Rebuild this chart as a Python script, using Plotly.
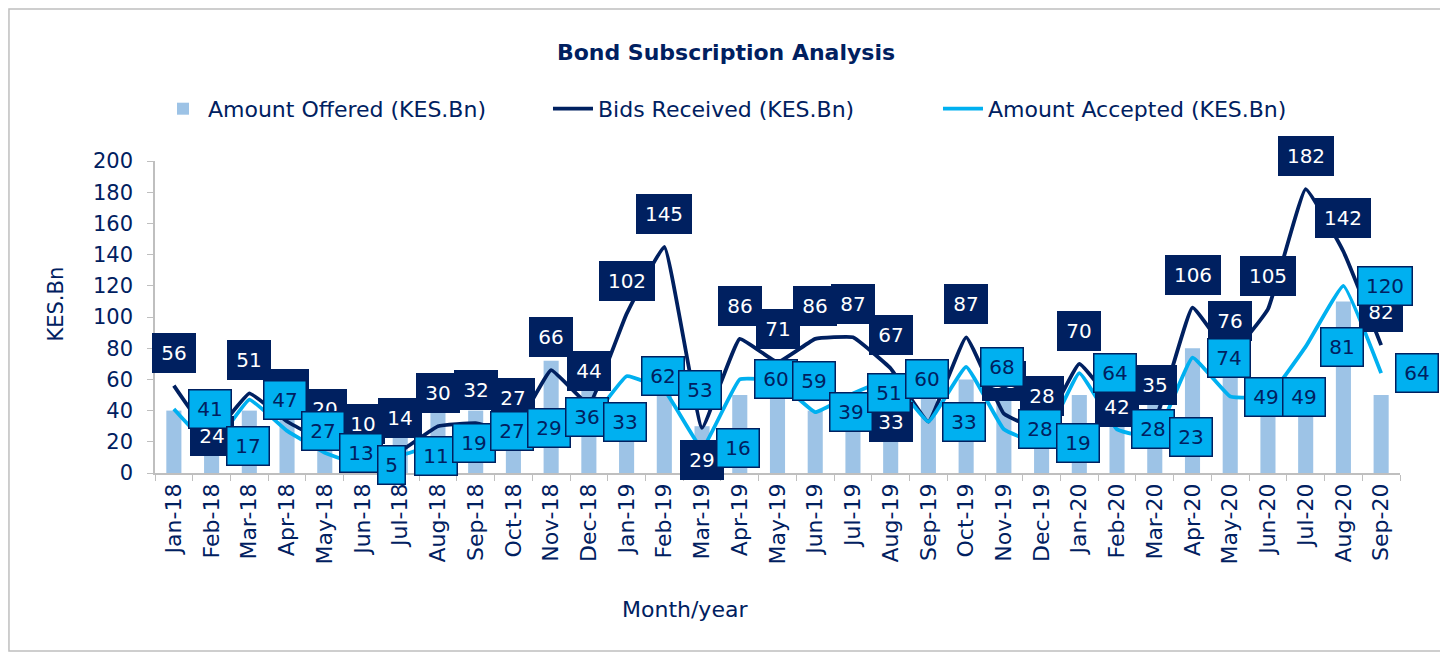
import plotly.graph_objects as go

months = ["Jan-18", "Feb-18", "Mar-18", "Apr-18", "May-18", "Jun-18", "Jul-18", "Aug-18", "Sep-18",
          "Oct-18", "Nov-18", "Dec-18", "Jan-19", "Feb-19", "Mar-19", "Apr-19", "May-19", "Jun-19",
          "Jul-19", "Aug-19", "Sep-19", "Oct-19", "Nov-19", "Dec-19", "Jan-20", "Feb-20", "Mar-20",
          "Apr-20", "May-20", "Jun-20", "Jul-20", "Aug-20", "Sep-20"]
amount_offered = [40, 20, 40, 40, 20, 15, 30, 40, 40, 40, 72, 60, 40, 50, 30, 50, 60, 40, 40, 40,
                  50, 60, 50, 30, 50, 50, 50, 80, 70, 40, 40, 110, 50]
bids_received = [56, 24, 51, 33, 20, 10, 14, 30, 32, 27, 66, 44, 102, 145, 29, 86, 71, 86, 87, 67,
                 33, 87, 38, 28, 70, 42, 35, 106, 76, 105, 182, 142, 82]
amount_accepted = [41, 17, 47, 27, 13, 5, 11, 19, 27, 29, 36, 33, 62, 53, 16, 60, 59, 39, 51, 60,
                   33, 68, 28, 19, 64, 28, 23, 74, 49, 49, 81, 120, 64]
# label placement of bids labels (Excel style): a=above, c=centre, b=below, l=left
bids_label_pos = ["a", "c", "a", "a", "a", "a", "a", "a", "a", "a", "a", "a", "a", "a", "b", "a",
                  "a", "a", "a", "a", "l", "a", "a", "a", "a", "c", "a", "a", "a", "a", "a", "a", "a"]

NAVY = "#002060"
CYAN = "#00B0F0"
BAR = "#9DC3E6"
FONT = "DejaVu Sans"

fig = go.Figure()
fig.add_trace(go.Bar(x=months, y=amount_offered, name="Amount Offered (KES.Bn)",
                     marker_color=BAR, marker_line_width=0))
fig.add_trace(go.Scatter(x=months, y=bids_received, name="Bids Received (KES.Bn)", mode="lines",
                         line=dict(color=NAVY, width=3.8, shape="spline", smoothing=0.3)))
fig.add_trace(go.Scatter(x=months, y=amount_accepted, name="Amount Accepted (KES.Bn)", mode="lines",
                         line=dict(color=CYAN, width=3.8, shape="spline", smoothing=0.3)))


def box_width(v):
    n = len(str(v))
    return {1: 22, 2: 37, 3: 49}[n]


annotations = []
for m, v, p in zip(months, bids_received, bids_label_pos):
    a = dict(x=m, y=v, xref="x", yref="y", text=str(v), showarrow=False,
             font=dict(family=FONT, size=20, color="white"), bgcolor=NAVY,
             bordercolor=NAVY, borderwidth=1, borderpad=2.5, width=box_width(v), height=33,
             xanchor="center", yanchor="middle")
    if p == "a":
        a["yshift"] = 33
    elif p == "b":
        a["yshift"] = -32
    elif p == "l":
        a["xanchor"] = "right"
        a["xshift"] = -15
    annotations.append(a)
for m, v in zip(months, amount_accepted):
    annotations.append(dict(x=m, y=v, xref="x", yref="y", text=str(v), showarrow=False,
                            font=dict(family=FONT, size=20, color=NAVY), bgcolor=CYAN,
                            bordercolor=NAVY, borderwidth=1.5, borderpad=2, width=box_width(v),
                            height=33, xanchor="left", yanchor="middle", xshift=14))

annotations.append(dict(text="Month/year", x=0.4257, y=-0.439, xref="paper", yref="paper",
                        xanchor="center", yanchor="middle",
                        showarrow=False, font=dict(family=FONT, size=22, color=NAVY)))
annotations.append(dict(text="KES.Bn", x=-0.0803, y=0.54, xref="paper", yref="paper",
                        xanchor="center", yanchor="middle",
                        showarrow=False, textangle=-90, font=dict(family=FONT, size=21, color=NAVY)))

fig.update_layout(
    width=1440, height=646,
    margin=dict(l=147, r=48, t=153, b=181, autoexpand=False),
    paper_bgcolor="white", plot_bgcolor="white",
    title=dict(text="<b>Bond Subscription Analysis</b>", x=0.4986, xanchor="center",
               y=0.932, yanchor="middle", font=dict(family=FONT, size=22, color=NAVY)),
    legend=dict(orientation="h", x=0.0024, y=1.167, xanchor="left", yanchor="middle",
                font=dict(family=FONT, size=22, color=NAVY), itemwidth=40,
                traceorder="normal", entrywidth=335),
    bargap=0.6,
    showlegend=True,
    annotations=annotations,
    shapes=[dict(type="rect", xref="paper", yref="paper", x0=-0.1173, x1=1.0329, y0=-0.5705, y1=1.487,
                 line=dict(color="#BFBFBF", width=1.5), fillcolor="rgba(0,0,0,0)", layer="below")],
)
fig.update_xaxes(type="category", range=[-0.5, len(months) - 0.5], showline=True,
                 linecolor="#BFBFBF", linewidth=1.5,
                 ticks="outside", tickson="boundaries", ticklen=6, tickcolor="#BFBFBF",
                 tickangle=-90, tickfont=dict(family=FONT, size=22, color=NAVY), showgrid=False,
                 automargin=False)
fig.update_yaxes(range=[0, 200], dtick=20, showline=True, linecolor="#BFBFBF", linewidth=1.5,
                 ticks="outside", ticklen=6, tickcolor="#BFBFBF", showgrid=False, zeroline=False,
                 tickfont=dict(family=FONT, size=21, color=NAVY), ticklabelstandoff=10,
                 automargin=False)

fig.write_html("out.html")
